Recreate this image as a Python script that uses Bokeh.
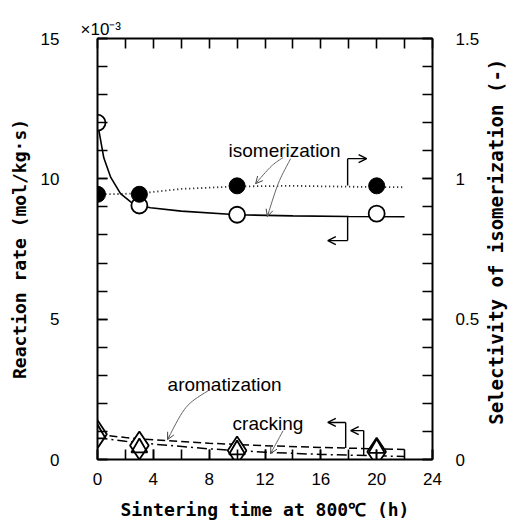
import math
from bokeh.plotting import figure
from bokeh.layouts import row
from bokeh.models import Range1d, LinearAxis, FixedTicker, Arrow, OpenHead, NumeralTickFormatter
from bokeh.embed import file_html
from bokeh.resources import INLINE
from bokeh.core.properties import value

# ---------------- data ----------------
time_pts = [0, 3, 10, 20]                    # sintering time (h)
iso_rate = [12.0, 9.05, 8.72, 8.76]          # isomerization rate, x10^-3 mol/kg.s (open circles)
iso_select = [0.945, 0.945, 0.975, 0.975]    # selectivity of isomerization (filled circles)
arom_rate = [0.90, 0.50, 0.32, 0.28]         # aromatization rate (diamonds)
crack_rate = [0.92, 0.42, 0.35, 0.40]        # cracking rate (triangles)

# fitted curves as drawn in the picture
iso_rate_curve_t = [0, 0.45, 0.95, 1.65, 2.4, 3, 3.8, 6, 10, 14, 18, 22]
iso_rate_curve = [12.0, 10.75, 10.05, 9.47, 9.17, 9.05, 8.97, 8.85, 8.72, 8.68, 8.66, 8.65]
sel_curve_t = [0, 1.5, 3, 6, 10, 14, 18, 22]
sel_curve = [0.945, 0.946, 0.948, 0.964, 0.973, 0.975, 0.972, 0.970]
arom_curve_t = [0, 2, 4, 8, 12, 16, 20, 22]
arom_curve = [0.90, 0.78, 0.70, 0.58, 0.49, 0.43, 0.38, 0.36]
crack_curve_t = [0, 2, 4, 8, 12, 16, 20, 22]
crack_curve = [0.78, 0.65, 0.55, 0.38, 0.26, 0.18, 0.13, 0.11]

x_major = [0, 4, 8, 12, 16, 20, 24]
x_minor = list(range(0, 25, 2))
y_major = [0, 5, 10, 15]
y_minor = list(range(0, 16))
sel_major = [0, 0.5, 1.0, 1.5]
sel_minor = [i / 10 for i in range(16)]

x_title = "Sintering time at 800℃ (h)"
y_title = "Reaction rate (mol/kg·s)"
y2_title = "Selectivity of isomerization (-)"
exponent = "×10⁻³"

# annotation texts and positions (data units of the left axis)
notes = [("isomerization", 9.39, 11.0), ("aromatization", 5.02, 2.67), ("cracking", 9.68, 1.28)]
# curved pointer arrows: start, control, tip
pointers = [((13.3, 10.76), (12.5, 10.5), (11.33, 9.83)),
            ((13.84, 10.72), (12.95, 9.9), (12.17, 8.66)),
            ((7.96, 2.46), (6.3, 1.95), (5.02, 0.71)),
            ((13.3, 1.03), (12.85, 0.62), (12.4, 0.21))]
# bracket arrows: x of vertical, y from, y to, x of arrow tip
brackets = [(17.92, 8.66, 7.80, 16.5),
            (17.92, 9.76, 10.72, 19.28),
            (17.78, 0.41, 1.32, 16.5),
            (19.07, 0.13, 1.03, 18.14)]

MAIN_W = 486
p = figure(width=MAIN_W, height=524, x_range=Range1d(0, 24), y_range=Range1d(0, 15),
           output_backend="svg", toolbar_location=None,
           min_border_left=97, min_border_right=MAIN_W - 432, min_border_top=38, min_border_bottom=65)
p.extra_y_ranges = {"sel": Range1d(0, 1.5)}
p.xgrid.visible = False
p.ygrid.visible = False
p.outline_line_color = None
p.background_fill_color = "white"
p.border_fill_color = "white"

bottom_ax = p.below[0]
left_ax = p.left[0]
right_ax = LinearAxis(y_range_name="sel")
top_ax = LinearAxis()
p.add_layout(right_ax, "right")
p.add_layout(top_ax, "above")

lab_font = "DejaVu Sans Mono"

def style(ax, major, minor, standoff):
    ax.ticker = FixedTicker(ticks=major, minor_ticks=minor)
    ax.major_tick_in = 10
    ax.major_tick_out = 0
    ax.minor_tick_in = 10
    ax.minor_tick_out = 0
    ax.axis_line_width = 2
    ax.major_tick_line_width = 1.6
    ax.minor_tick_line_width = 1.6
    ax.axis_line_color = "black"
    ax.major_tick_line_color = "black"
    ax.minor_tick_line_color = "black"
    ax.major_label_text_font = "Liberation Sans"
    ax.major_label_text_font_size = "17px"
    ax.major_label_text_color = "black"
    ax.major_label_standoff = standoff
    ax.axis_label_text_font = lab_font
    ax.axis_label_text_font_size = "18px"
    ax.axis_label_text_font_style = "bold"
    ax.axis_label_text_color = "black"

style(bottom_ax, x_major, x_minor, 13)
style(left_ax, y_major, y_minor, 38)
style(right_ax, sel_major, sel_minor, 23)
style(top_ax, [], x_minor, 0)
right_ax.formatter = NumeralTickFormatter(format="0.[0]")

bottom_ax.axis_label = x_title
bottom_ax.axis_label_standoff = 11
left_ax.axis_label = y_title
left_ax.axis_label_standoff = 8

p.title.text = exponent
p.title.align = "left"
p.title.offset = -17
p.title.standoff = 0
p.title.text_font = "Liberation Sans"
p.title.text_font_size = "17px"
p.title.text_font_style = "normal"
p.title.text_color = "black"

# curves
p.line(iso_rate_curve_t, iso_rate_curve, line_color="black", line_width=1.6)
p.line(sel_curve_t, sel_curve, y_range_name="sel", line_color="black", line_width=1.8, line_dash="1 3")
p.line(arom_curve_t, arom_curve, line_color="black", line_width=1.5, line_dash="8 4")
p.line(crack_curve_t, crack_curve, line_color="black", line_width=1.5, line_dash="10 4 2 4")

# markers
p.scatter(time_pts, arom_rate, marker="diamond", size=28, fill_color="white", line_color="black", line_width=1.8)
p.scatter(time_pts, crack_rate, marker="triangle", size=16, fill_color=None, line_color="black", line_width=1.8)
p.scatter(time_pts, iso_rate, marker="circle", size=16, fill_color="white", line_color="black", line_width=1.8)
p.scatter(time_pts, iso_select, y_range_name="sel", marker="circle", size=16, fill_color="black", line_color="black")

# annotation texts
p.text([n[1] for n in notes], [n[2] for n in notes], text=[n[0] for n in notes],
       text_font=value("Liberation Sans"), text_font_size="19px", text_baseline="alphabetic",
       text_align="left", text_color="black")

# curved pointer arrows
for (s, c, t) in pointers:
    p.bezier(x0=[s[0]], y0=[s[1]], x1=[t[0]], y1=[t[1]], cx0=[c[0]], cy0=[c[1]], cx1=[c[0]], cy1=[c[1]],
             line_color="#666666", line_width=1)
    ax0 = t[0] + 0.12 * (c[0] - t[0])
    ay0 = t[1] + 0.12 * (c[1] - t[1])
    p.add_layout(Arrow(end=OpenHead(size=7, line_width=1, line_color="#444444"),
                       x_start=ax0, y_start=ay0, x_end=t[0], y_end=t[1],
                       line_color="#666666", line_width=1))

# bracket arrows
for (bx, y0, y1, tx) in brackets:
    p.line([bx, bx], [y0, y1], line_color="black", line_width=1.4)
    p.add_layout(Arrow(end=OpenHead(size=8, line_width=1.4), x_start=bx, y_start=y1, x_end=tx, y_end=y1,
                       line_color="black", line_width=1.4))

# narrow strip holding the right-hand axis title (reads bottom to top)
STRIP_W = 509 - MAIN_W
q = figure(width=STRIP_W, height=524, x_range=Range1d(0, STRIP_W), y_range=Range1d(0, 524),
           output_backend="svg", toolbar_location=None, x_axis_location=None, y_axis_location=None,
           min_border_left=0, min_border_right=0, min_border_top=0, min_border_bottom=0)
q.xgrid.visible = False
q.ygrid.visible = False
q.outline_line_color = None
q.border_fill_color = "white"
q.background_fill_color = "white"
q.text([495 - MAIN_W], [524 - 253], text=[y2_title], angle=math.pi / 2,
       text_font=value(lab_font), text_font_size="19px", text_font_style="bold",
       text_align="center", text_baseline="middle", text_color="black")

open("out.html", "w").write(file_html(row(p, q, spacing=0), INLINE))
